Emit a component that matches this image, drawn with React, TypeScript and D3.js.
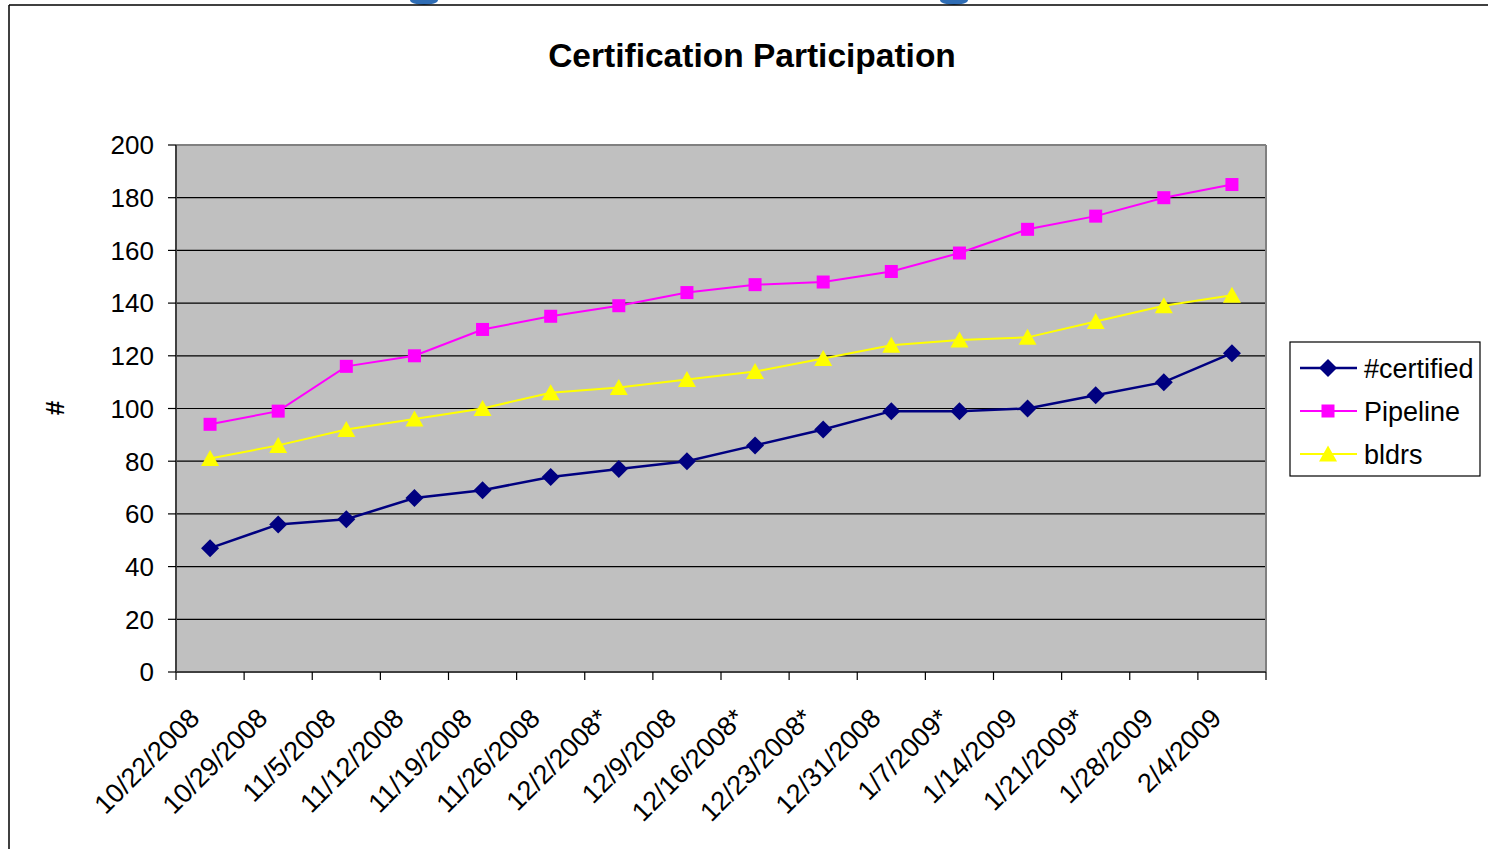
import React from "react";
import * as d3 from "d3";

const categories = [
  "10/22/2008", "10/29/2008", "11/5/2008", "11/12/2008", "11/19/2008", "11/26/2008",
  "12/2/2008*", "12/9/2008", "12/16/2008*", "12/23/2008*", "12/31/2008", "1/7/2009*",
  "1/14/2009", "1/21/2009*", "1/28/2009", "2/4/2009",
];
const certified = [47, 56, 58, 66, 69, 74, 77, 80, 86, 92, 99, 99, 100, 105, 110, 121];
const pipeline = [94, 99, 116, 120, 130, 135, 139, 144, 147, 148, 152, 159, 168, 173, 180, 185];
const bldrs = [81, 86, 92, 96, 100, 106, 108, 111, 114, 119, 124, 126, 127, 133, 139, 143];
const yTicks = [0, 20, 40, 60, 80, 100, 120, 140, 160, 180, 200];
const seriesNames = ["#certified", "Pipeline", "bldrs"];
const title = "Certification Participation";
const yLabel = "#";

const W = 1488;
const H = 849;
const M = { left: 176, right: 1266, top: 145, bottom: 672 };
const FONT = "'Liberation Sans', Arial, Helvetica, sans-serif";

type Shape = "diamond" | "square" | "triangle";

function Marker({ x, y, shape, color }: { x: number; y: number; shape: Shape; color: string }) {
  if (shape === "diamond") {
    const r = 9;
    return <path d={`M${x},${y - r}L${x + r},${y}L${x},${y + r}L${x - r},${y}Z`} fill={color} />;
  }
  if (shape === "square") {
    const s = 13;
    return <rect x={x - s / 2} y={y - s / 2} width={s} height={s} fill={color} />;
  }
  const h = 15;
  const w = 18;
  return <path d={`M${x},${y - h / 2 - 1}L${x + w / 2},${y + h / 2}L${x - w / 2},${y + h / 2}Z`} fill={color} />;
}

export default function App() {
  const x = d3.scaleBand<string>().domain(categories).range([M.left, M.right]).padding(0);
  const y = d3.scaleLinear().domain([0, 200]).range([M.bottom, M.top]);
  const cx = (c: string) => (x(c) as number) + x.bandwidth() / 2;

  const series = [
    { name: seriesNames[0], values: certified, color: "#000080", shape: "diamond" as Shape, width: 2.5 },
    { name: seriesNames[1], values: pipeline, color: "#ff00ff", shape: "square" as Shape, width: 2 },
    { name: seriesNames[2], values: bldrs, color: "#ffff00", shape: "triangle" as Shape, width: 2 },
  ];

  const line = d3
    .line<number>()
    .x((_, i) => cx(categories[i]))
    .y((d) => y(d));

  const boundaries = [...categories.map((c) => x(c) as number), M.right];

  return (
    <svg
      width={W}
      height={H}
      style={{ position: "absolute", left: 0, top: 0, display: "block", background: "#fff" }}
      fontFamily={FONT}
    >
      {/* slide decorations */}
      <ellipse cx={424} cy={0} rx={14} ry={5} fill="#2f6db5" />
      <ellipse cx={954} cy={0} rx={14} ry={5} fill="#2f6db5" />
      <line x1={9} y1={5} x2={W} y2={5} stroke="#000" strokeWidth={1.5} />
      <line x1={9} y1={5} x2={9} y2={H} stroke="#000" strokeWidth={1.5} />

      <text x={752} y={67} textAnchor="middle" fontSize={33.5} fontWeight="bold" fill="#000">
        {title}
      </text>

      {/* plot area */}
      <rect x={M.left} y={M.top} width={M.right - M.left} height={M.bottom - M.top} fill="#c0c0c0" />
      {yTicks.slice(1, -1).map((t) => (
        <line key={t} x1={M.left} x2={M.right} y1={y(t)} y2={y(t)} stroke="#000" strokeWidth={1.2} />
      ))}
      <line x1={M.left} x2={M.right} y1={M.top} y2={M.top} stroke="#808080" strokeWidth={2} />
      <line x1={M.right} x2={M.right} y1={M.top} y2={M.bottom} stroke="#808080" strokeWidth={2} />
      <line x1={M.left} x2={M.left} y1={M.top} y2={M.bottom} stroke="#404040" strokeWidth={2} />
      <line x1={M.left} x2={M.right} y1={M.bottom} y2={M.bottom} stroke="#404040" strokeWidth={2} />

      {/* y ticks */}
      {yTicks.map((t) => (
        <g key={t}>
          <line x1={M.left - 8} x2={M.left} y1={y(t)} y2={y(t)} stroke="#000" strokeWidth={1.2} />
          <text x={154} y={y(t)} dy="0.36em" textAnchor="end" fontSize={26} fill="#000">
            {t}
          </text>
        </g>
      ))}

      {/* x ticks */}
      {boundaries.map((b, i) => (
        <line key={i} x1={b} x2={b} y1={M.bottom} y2={M.bottom + 8} stroke="#000" strokeWidth={1.2} />
      ))}
      {categories.map((c) => (
        <text
          key={c}
          transform={`translate(${cx(c) - 9},${720}) rotate(-45)`}
          textAnchor="end"
          fontSize={27}
          fill="#000"
        >
          {c}
        </text>
      ))}

      <text
        transform={`translate(64,408) rotate(-90)`}
        textAnchor="middle"
        fontSize={26}
        fontWeight="bold"
        fill="#000"
      >
        {yLabel}
      </text>

      {/* series */}
      {series.map((s) => (
        <g key={s.name}>
          <path d={line(s.values) || ""} fill="none" stroke={s.color} strokeWidth={s.width} />
          {s.values.map((v, i) => (
            <Marker key={i} x={cx(categories[i])} y={y(v)} shape={s.shape} color={s.color} />
          ))}
        </g>
      ))}

      {/* legend */}
      <rect x={1290} y={342} width={190} height={134} fill="#fff" stroke="#000" strokeWidth={1.2} />
      {series.map((s, i) => {
        const ly = 368 + i * 43;
        return (
          <g key={s.name}>
            <line x1={1300} x2={1357} y1={ly} y2={ly} stroke={s.color} strokeWidth={s.width} />
            <Marker x={1328} y={ly} shape={s.shape} color={s.color} />
            <text x={1364} y={ly} dy="0.36em" fontSize={27} fill="#000">
              {s.name}
            </text>
          </g>
        );
      })}
    </svg>
  );
}
